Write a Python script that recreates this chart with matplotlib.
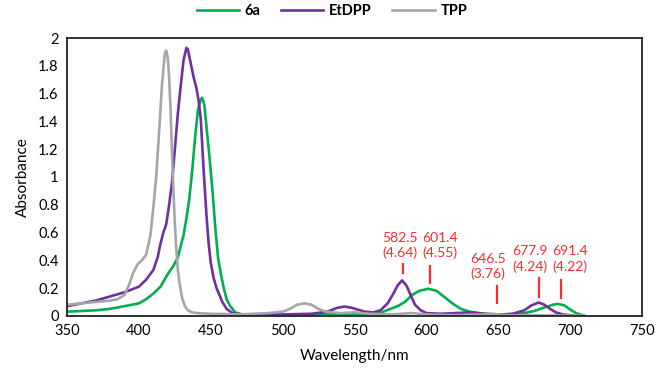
import matplotlib.pyplot as plt

# --- data ---
wl_6a = [350, 360, 370, 380, 390, 400, 405, 410, 415, 420, 424, 427, 429, 431, 433, 435,
         437, 439, 441, 443, 444, 445.5, 447, 449, 451, 453, 455, 457, 459, 461, 463.5,
         467, 472, 490, 510, 530, 550, 560, 570, 580, 585, 590, 595, 601.4, 607, 612, 618,
         624, 630, 640, 650, 660, 668, 675, 682, 688, 691.4, 696, 700, 704, 709]
abs_6a = [0.03, 0.035, 0.04, 0.05, 0.07, 0.09, 0.12, 0.16, 0.21, 0.30, 0.36, 0.42, 0.50, 0.58, 0.70, 0.84,
          1.04, 1.28, 1.48, 1.56, 1.57, 1.52, 1.36, 1.15, 0.92, 0.65, 0.42, 0.30, 0.20, 0.12, 0.07,
          0.025, 0.01, 0.008, 0.01, 0.012, 0.012, 0.015, 0.03, 0.07, 0.10, 0.15, 0.18, 0.195, 0.18, 0.14, 0.09,
          0.05, 0.03, 0.015, 0.01, 0.012, 0.02, 0.035, 0.06, 0.08, 0.086, 0.075, 0.045, 0.02, 0.004]

wl_etdpp = [350, 360, 370, 380, 390, 395, 400, 405, 410, 413, 415, 417, 419, 421, 423, 425,
            427, 429, 431, 433, 434, 436, 438, 440, 441.5, 443, 445, 447, 448.5, 450, 452, 454,
            456, 458, 461, 465, 470, 480, 500, 520, 531, 538, 543, 548, 557, 563, 568, 573,
            577, 580, 583, 586, 589, 592, 596, 600, 610, 620, 630, 640, 650, 660, 668, 673,
            678, 682, 686, 690, 695, 702]
abs_etdpp = [0.07, 0.09, 0.11, 0.14, 0.17, 0.19, 0.21, 0.26, 0.33, 0.42, 0.52, 0.60, 0.66, 0.80, 0.96, 1.20,
             1.45, 1.65, 1.84, 1.93, 1.92, 1.82, 1.72, 1.64, 1.55, 1.42, 1.05, 0.72, 0.52, 0.38, 0.27, 0.20,
             0.15, 0.10, 0.05, 0.02, 0.01, 0.005, 0.01, 0.015, 0.03, 0.058, 0.067, 0.058, 0.03, 0.025, 0.04, 0.09,
             0.16, 0.22, 0.255, 0.22, 0.15, 0.08, 0.04, 0.02, 0.015, 0.02, 0.025, 0.015, 0.008, 0.015, 0.04, 0.075,
             0.096, 0.08, 0.05, 0.025, 0.01, 0.003]

wl_tpp = [350, 360, 370, 380, 385, 390, 393, 396, 399, 402, 405, 408, 410, 412, 414, 416,
          418, 419, 420, 421, 422, 423, 424, 425, 426, 427, 428, 430, 432, 434, 437, 440,
          450, 470, 490, 500, 505, 510, 515, 520, 525, 530, 540, 550, 560, 575, 590, 600,
          620, 640, 646, 655, 680, 710]
abs_tpp = [0.08, 0.09, 0.10, 0.11, 0.12, 0.15, 0.22, 0.31, 0.37, 0.40, 0.44, 0.58, 0.78, 1.00, 1.32, 1.66,
           1.89, 1.91, 1.86, 1.72, 1.48, 1.18, 0.90, 0.66, 0.48, 0.34, 0.25, 0.13, 0.07, 0.04, 0.025, 0.02,
           0.015, 0.01, 0.02, 0.03, 0.05, 0.08, 0.09, 0.08, 0.05, 0.03, 0.02, 0.025, 0.015, 0.01, 0.02, 0.01,
           0.005, 0.01, 0.015, 0.005, 0.003, 0.002]

peak_wl = [582.5, 601.4, 646.5, 677.9, 691.4]
log_eps = [4.64, 4.55, 3.76, 4.24, 4.22]

# layout for the red peak labels (text centre x, text centre y, marker x, marker y0, y1)
label_x = [581.7, 609.5, 642.9, 672.1, 699.9]
label_y = [0.507, 0.507, 0.356, 0.41, 0.41]
mark_x = [583.7, 602.5, 648.9, 678.6, 693.6]
mark_y0 = [0.31, 0.237, 0.09, 0.137, 0.13]
mark_y1 = [0.37, 0.36, 0.215, 0.27, 0.26]

plt.rcParams['font.family'] = ['Lato', 'DejaVu Sans']

fig = plt.figure(figsize=(6.64, 3.81), dpi=100)
ax = fig.add_axes([0.101, 0.171, 0.866, 0.729])

ax.plot(wl_6a, abs_6a, color='#00B050', lw=1.9, label='6a')
ax.plot(wl_etdpp, abs_etdpp, color='#7030A0', lw=1.9, label='EtDPP')
ax.plot(wl_tpp, abs_tpp, color='#A6A6A6', lw=1.9, label='TPP')

for i in range(len(peak_wl)):
    ax.text(label_x[i], label_y[i], f'{peak_wl[i]}\n({log_eps[i]:.2f})', color='#FF2A2A',
            ha='center', va='center', fontsize=10, linespacing=1.3)
    ax.plot([mark_x[i], mark_x[i]], [mark_y0[i], mark_y1[i]], color='#FF2A2A', lw=1.6)

ax.set_xlim(350, 750)
ax.set_ylim(0, 2)
ax.set_xticks(range(350, 751, 50))
ax.set_yticks([0, 0.2, 0.4, 0.6, 0.8, 1, 1.2, 1.4, 1.6, 1.8, 2])
ax.set_yticklabels(['0', '0.2', '0.4', '0.6', '0.8', '1', '1.2', '1.4', '1.6', '1.8', '2'])
ax.tick_params(length=0, labelsize=10.5, pad=6)
for s in ax.spines.values():
    s.set_color('#222222')
    s.set_linewidth(1.3)

ax.set_xlabel('Wavelength/nm', fontsize=11, labelpad=8)
ax.set_ylabel('Absorbance', fontsize=11, labelpad=6)

leg = fig.legend(loc='center', bbox_to_anchor=(0.5, 0.972), ncol=3, frameon=False,
                 handlelength=2.9, handletextpad=0.4, columnspacing=1.4,
                 prop={'weight': 'bold', 'size': 10.5})

fig.savefig('out.png', dpi=100)
